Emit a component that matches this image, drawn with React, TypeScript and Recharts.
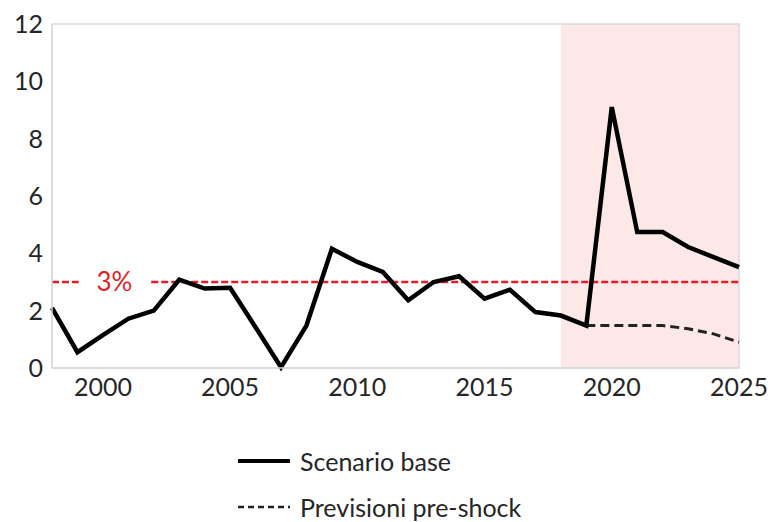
import React from 'react';
import {
  LineChart,
  Line,
  XAxis,
  YAxis,
  ReferenceArea,
  ReferenceLine,
  ReferenceDot,
} from 'recharts';

const years = [
  1998, 1999, 2000, 2001, 2002, 2003, 2004, 2005, 2006, 2007, 2008, 2009, 2010, 2011,
  2012, 2013, 2014, 2015, 2016, 2017, 2018, 2019, 2020, 2021, 2022, 2023, 2024, 2025,
];
const scenarioBase = [
  2.1, 0.55, 1.15, 1.72, 2.0, 3.08, 2.77, 2.8, 1.42, 0.03, 1.48, 4.16, 3.7, 3.35,
  2.36, 3.0, 3.2, 2.42, 2.73, 1.95, 1.83, 1.48, 9.1, 4.74, 4.74, 4.22, 3.87, 3.52,
];
const preShock: (number | null)[] = [
  null, null, null, null, null, null, null, null, null, null, null, null, null, null,
  null, null, null, null, null, null, null, 1.48, 1.48, 1.48, 1.48, 1.37, 1.19, 0.9,
];
const xTicks = [2000, 2005, 2010, 2015, 2020, 2025];
const yTicks = [0, 2, 4, 6, 8, 10, 12];
const threshold = 3;
const shockStart = 2018;

const data = years.map((year, i) => ({
  year,
  base: scenarioBase[i],
  pre: preShock[i],
}));

const font = 'Lato, "Open Sans", sans-serif';
const textColor = '#262626';
const borderColor = '#d9d9d9';
const red = '#e41e26';

const App: React.FC = () => {
  return (
    <div style={{ position: 'relative', width: 772, height: 522, fontFamily: font }}>
      <style>{`body { margin: 0; overflow: hidden; }`}</style>
      <LineChart
        width={772}
        height={408}
        data={data}
        margin={{ top: 24, right: 33, left: 12, bottom: 0 }}
        style={{ overflow: 'visible' }}
      >
        <ReferenceArea
          x1={shockStart}
          x2={2025}
          y1={0}
          y2={12}
          fill="#fde8e8"
          fillOpacity={1}
          stroke="none"
        />
        <ReferenceArea
          x1={1998}
          x2={2025}
          y1={0}
          y2={12}
          fill="none"
          stroke={borderColor}
          strokeWidth={1.5}
        />
        <XAxis
          dataKey="year"
          type="number"
          domain={[1998, 2025]}
          ticks={xTicks}
          tickLine={false}
          tickSize={0}
          tickMargin={10}
          height={40}
          axisLine={{ stroke: borderColor, strokeWidth: 1.5 }}
          tick={{ fill: textColor, fontSize: 25, fontFamily: font }}
        />
        <YAxis
          type="number"
          domain={[0, 12]}
          ticks={yTicks}
          width={40}
          tickLine={false}
          tickSize={0}
          tickMargin={9}
          axisLine={{ stroke: borderColor, strokeWidth: 1.5 }}
          tick={{ fill: textColor, fontSize: 25, fontFamily: font }}
        />
        <ReferenceLine
          segment={[{ x: 1998, y: threshold }, { x: 1999.05, y: threshold }]}
          stroke={red}
          strokeWidth={2.5}
          strokeDasharray="7 3"
        />
        <ReferenceLine
          segment={[{ x: 2001.9, y: threshold }, { x: 2025, y: threshold }]}
          stroke={red}
          strokeWidth={2.5}
          strokeDasharray="7 3"
        />
        <ReferenceDot
          x={2000.45}
          y={threshold}
          r={0}
          fill="none"
          stroke="none"
          label={{ value: '3%', position: 'center', fill: red, fontSize: 26, fontFamily: font }}
        />
        <Line
          dataKey="pre"
          stroke="#222"
          strokeWidth={3}
          strokeDasharray="9 5"
          dot={false}
          connectNulls={false}
          isAnimationActive={false}
        />
        <Line
          dataKey="base"
          stroke="#000"
          strokeWidth={4.5}
          strokeLinejoin="miter"
          dot={false}
          isAnimationActive={false}
        />
      </LineChart>
      <div style={{ position: 'absolute', left: 238, top: 445, color: textColor, fontSize: 25 }}>
        <div style={{ display: 'flex', alignItems: 'center', height: 32 }}>
          <svg width={54} height={10} style={{ marginRight: 8 }}>
            <line x1={0} y1={5} x2={52} y2={5} stroke="#000" strokeWidth={4} />
          </svg>
          <span>Scenario base</span>
        </div>
        <div style={{ display: 'flex', alignItems: 'center', height: 32, marginTop: 14 }}>
          <svg width={54} height={10} style={{ marginRight: 8 }}>
            <line x1={0} y1={5} x2={52} y2={5} stroke="#222" strokeWidth={2.5} strokeDasharray="6 4" />
          </svg>
          <span>Previsioni pre-shock</span>
        </div>
      </div>
    </div>
  );
};

export default App;
